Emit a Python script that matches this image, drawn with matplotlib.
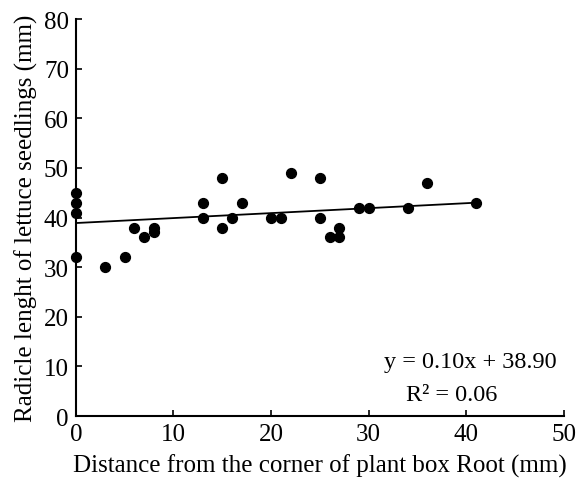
import numpy as np
import matplotlib.pyplot as plt

plt.rcParams['font.family'] = ['Liberation Serif', 'DejaVu Serif']

# distance from the corner (mm) and radicle length (mm)
dist = [0, 0, 0, 0, 3, 5, 6, 7, 8, 8, 13, 13, 15, 15, 16, 17, 20, 21, 22,
        25, 25, 26, 27, 27, 29, 30, 34, 36, 41]
radicle = [45, 43, 41, 32, 30, 32, 38, 36, 37, 38, 43, 40, 48, 38, 40, 43, 40, 40, 49,
           48, 40, 36, 36, 38, 42, 42, 42, 47, 43]

slope = 0.10
intercept = 38.90
r2 = 0.06

fig = plt.figure(figsize=(5.79, 4.89), dpi=100)
ax = fig.add_axes([0.131, 0.147, 0.843, 0.812])

ax.scatter(dist, radicle, s=50, color='black', zorder=3, clip_on=False)
xfit = np.array([0, max(dist)])
ax.plot(xfit, slope * xfit + intercept, color='black', lw=1.3)

ax.set_xlim(0, 50)
ax.set_ylim(0, 80)
ax.set_xticks(range(0, 51, 10))
ax.set_yticks(range(0, 81, 10))
for s in ['top', 'right']:
    ax.spines[s].set_visible(False)
for s in ['left', 'bottom']:
    ax.spines[s].set_linewidth(1.5)
ax.tick_params(direction='in', length=4, width=1.2, labelsize=18, pad=5)

ax.set_xlabel('Distance from the corner of plant box Root (mm)', fontsize=18, labelpad=6)
ax.set_ylabel('Radicle lenght of lettuce seedlings (mm)', fontsize=18, labelpad=4)

ax.text(40.4, 11.1, 'y = 0.10x + 38.90', fontsize=17.5, ha='center', va='center')
ax.text(38.5, 4.4, 'R² = 0.06', fontsize=17.5, ha='center', va='center')

fig.savefig('out.png', dpi=100)
